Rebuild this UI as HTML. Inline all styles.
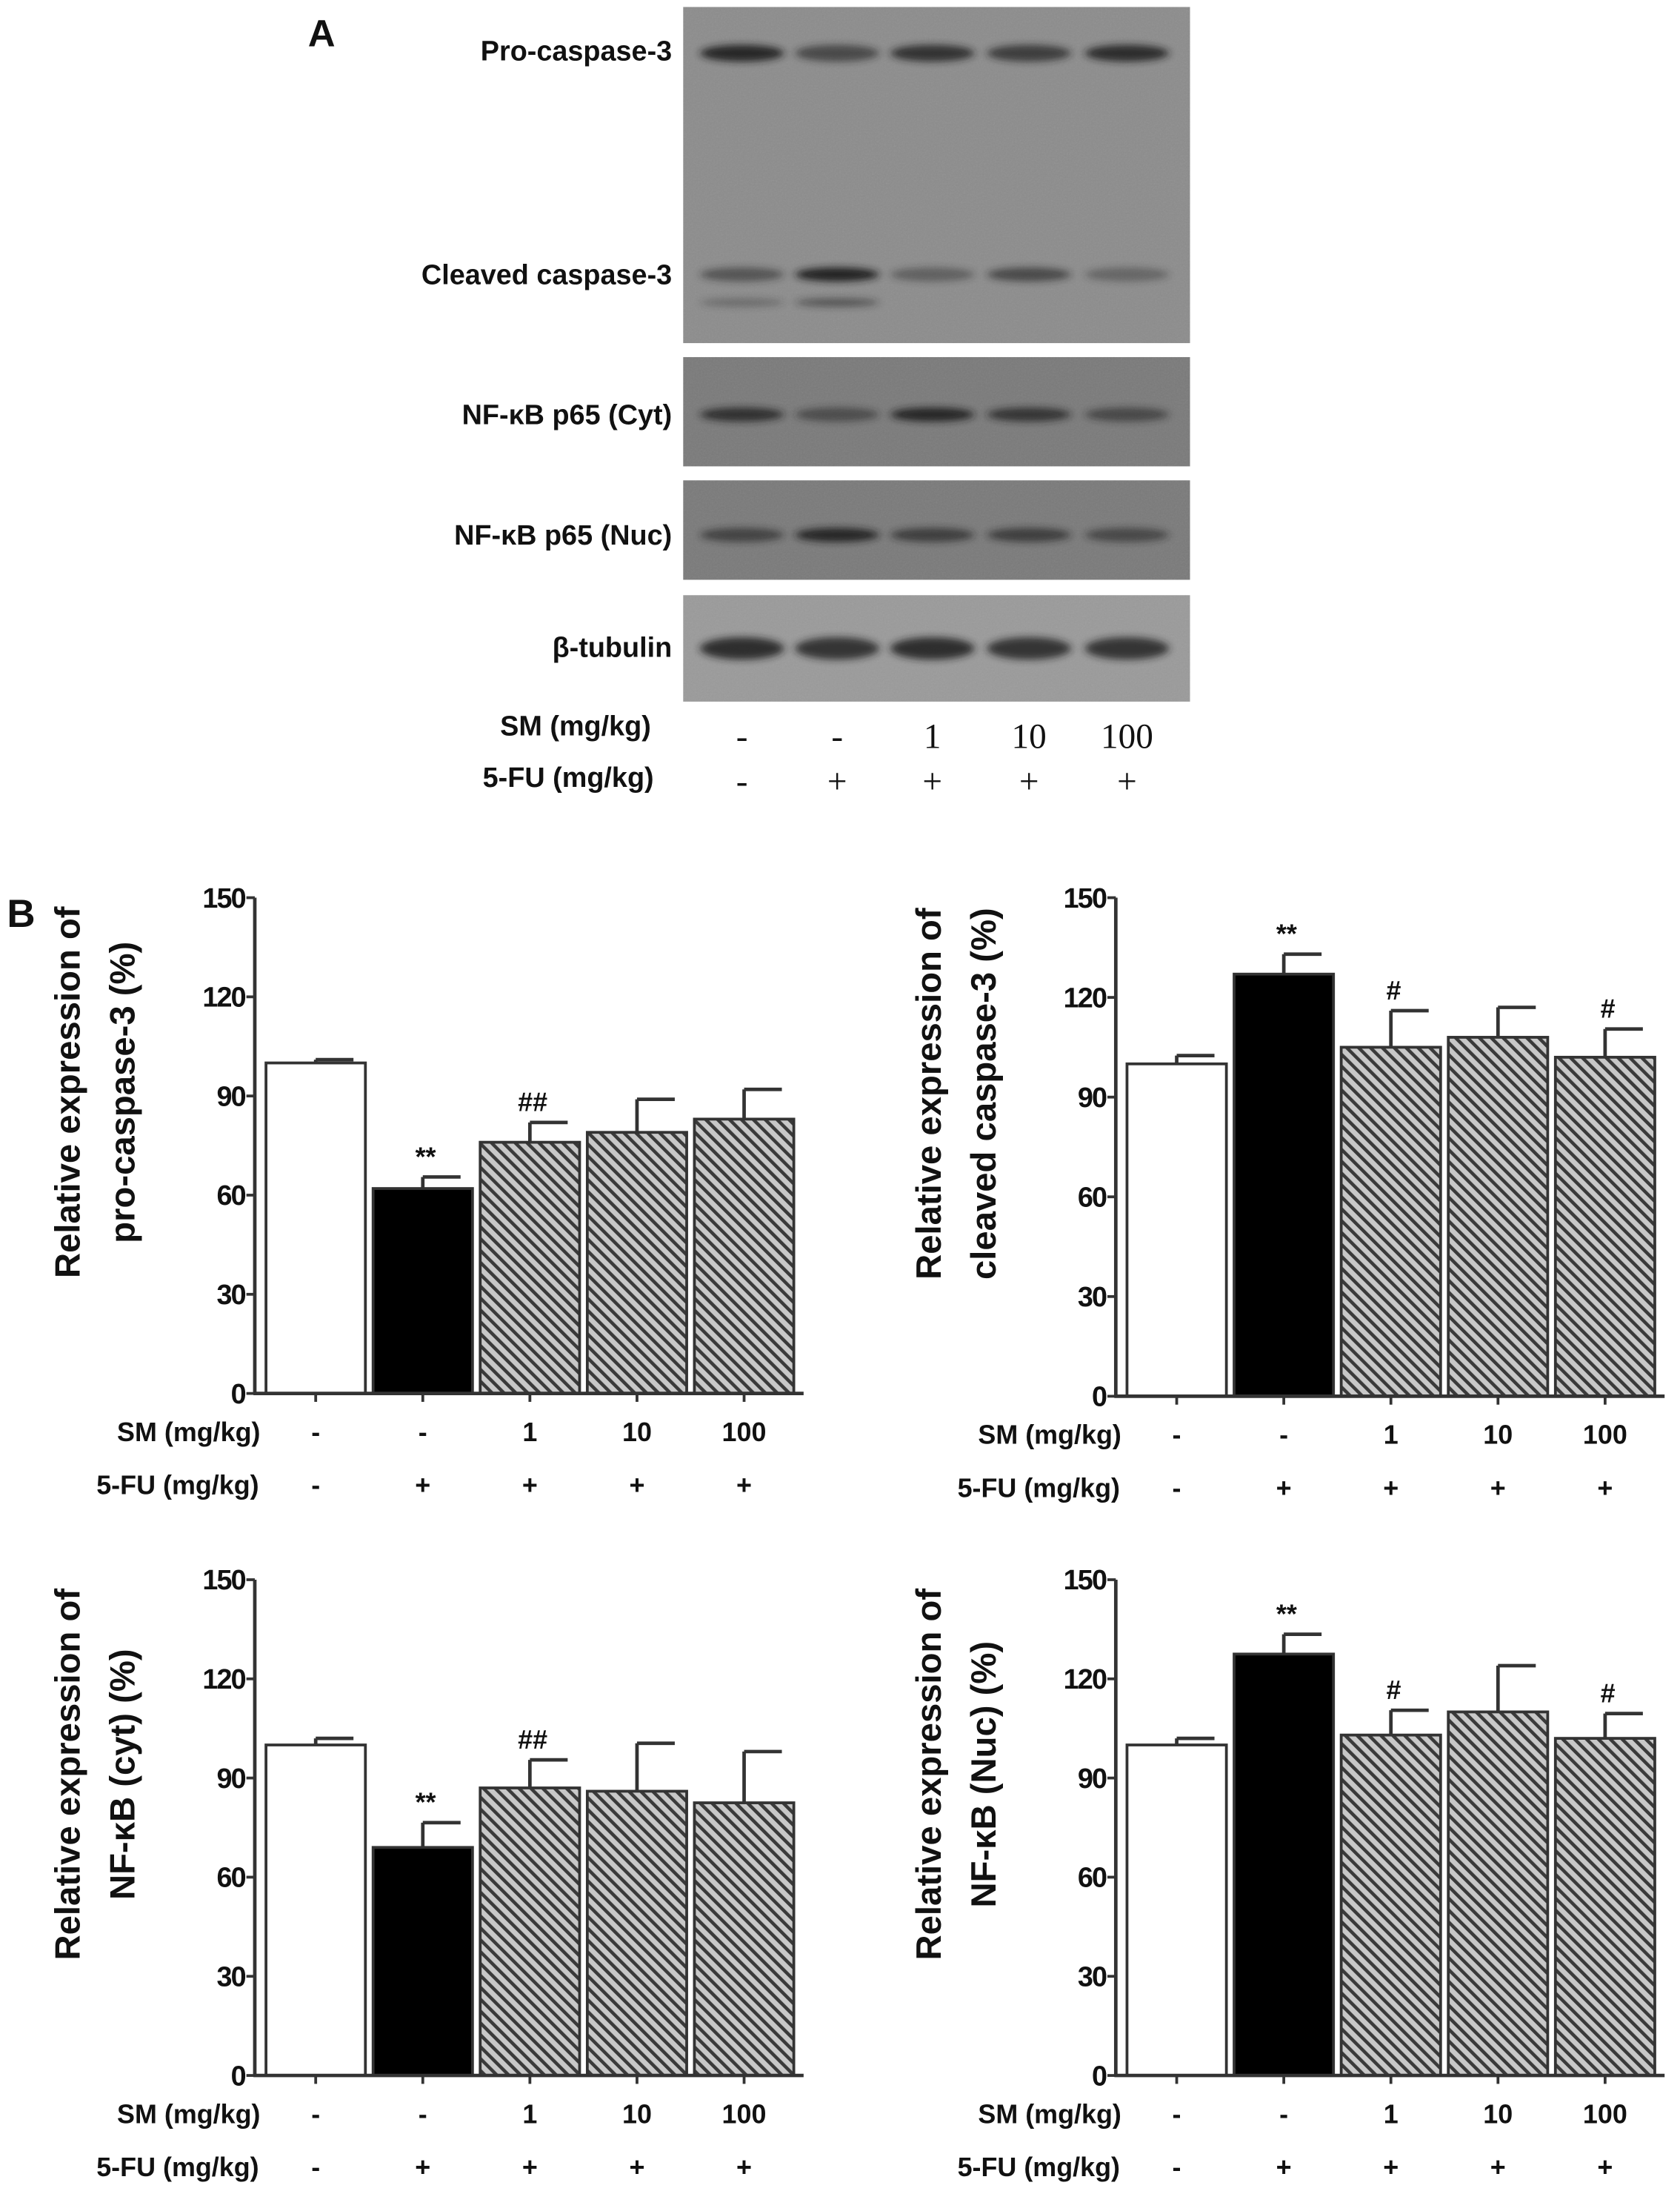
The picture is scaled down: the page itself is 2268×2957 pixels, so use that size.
<!DOCTYPE html>
<html><head><meta charset="utf-8"><style>
html,body{margin:0;padding:0;background:#fff}
svg{display:block}
text{font-family:"Liberation Sans",Arial,sans-serif;font-weight:bold;fill:#111}
text.serif{font-family:"Liberation Serif",serif;font-weight:normal}
</style></head><body>
<svg id="fig" xmlns="http://www.w3.org/2000/svg" width="2268" height="2957" viewBox="0 0 1200 1564.5" preserveAspectRatio="none">
<defs>
<pattern id="hatch" patternUnits="userSpaceOnUse" width="6" height="6" patternTransform="rotate(-45)">
<rect width="6" height="6" fill="#c8c8c8"/><rect width="2.4" height="6" fill="#3a3a3a"/>
</pattern>
<filter id="blur" x="-50%" y="-100%" width="200%" height="300%"><feGaussianBlur stdDeviation="3 2.5"/></filter>
<filter id="noise" x="0" y="0" width="1" height="1"><feTurbulence type="fractalNoise" baseFrequency="0.9" numOctaves="2" result="n"/><feColorMatrix type="saturate" values="0"/><feComponentTransfer><feFuncA type="linear" slope="0.12"/></feComponentTransfer></filter>
</defs>
<g id="panelA"></g>
<g id="panelB"></g>
</svg>
<script>
// ---- Data ----
const smLabels = ["-", "-", "1", "10", "100"];
const fuLabels = ["-", "+", "+", "+", "+"];
const yTicks = [0, 30, 60, 90, 120, 150];
const proCaspase = [100, 62, 76, 79, 83];
const proCaspaseErr = [1, 3.5, 6, 10, 9];
const proCaspaseSig = ["", "**", "##", "", ""];
const cleavedCaspase = [100, 127, 105, 108, 102];
const cleavedCaspaseErr = [2.5, 6, 11, 9, 8.5];
const cleavedCaspaseSig = ["", "**", "#", "", "#"];
const nfkbCyt = [100, 69, 87, 86, 82.5];
const nfkbCytErr = [2, 7.5, 8.5, 14.5, 15.5];
const nfkbCytSig = ["", "**", "##", "", ""];
const nfkbNuc = [100, 127.5, 103, 110, 102];
const nfkbNucErr = [2, 6, 7.5, 14, 7.5];
const nfkbNucSig = ["", "**", "#", "", "#"];
// blot band intensities (0-1) per lane
const bandPro = [0.9, 0.6, 0.8, 0.7, 0.85];
const bandCleaved = [0.5, 0.95, 0.4, 0.6, 0.35];
const bandCleavedLow = [0.3, 0.5, 0, 0, 0];
const bandCyt = [0.8, 0.5, 0.9, 0.75, 0.55];
const bandNuc = [0.6, 0.9, 0.65, 0.65, 0.55];
const bandTub = [0.85, 0.8, 0.85, 0.8, 0.8];

const NS = "http://www.w3.org/2000/svg";
function mk(parent, tag, attrs, txt) {
  const e = document.createElementNS(NS, tag);
  for (const k in attrs) e.setAttribute(k, attrs[k]);
  if (txt !== undefined) e.textContent = txt;
  parent.appendChild(e);
  return e;
}

// ---- Panel A ----
const A = document.getElementById('panelA');
let t = mk(A, 'text', {x: 220, y: 33, 'font-size': 27}, 'A');


const laneX = [530, 598, 666, 735, 805];
const blots = [
  {y: 5, h: 240, fill: '#8c8c8c', label: 'Pro-caspase-3', ly: 43, name: 'blot-caspase-3'},
  {y: 255, h: 78, fill: '#7a7a7a', label: 'NF-\u03baB p65 (Cyt)', ly: 303, name: 'blot-nfkb-cyt'},
  {y: 343, h: 71, fill: '#7a7a7a', label: 'NF-\u03baB p65 (Nuc)', ly: 389, name: 'blot-nfkb-nuc'},
  {y: 425, h: 76, fill: '#9a9a9a', label: '\u03b2-tubulin', ly: 469, name: 'blot-beta-tubulin'}
];
blots.forEach(b => {
  const r = mk(A, 'rect', {x: 488, y: b.y, width: 362, height: b.h, fill: b.fill});
  
  
  mk(A, 'rect', {x: 488, y: b.y, width: 362, height: b.h, filter: 'url(#noise)'});
  const l = mk(A, 'text', {x: 480, y: b.ly, 'font-size': 20, 'text-anchor': 'end'}, b.label);
  
  
});
let cl = mk(A, 'text', {x: 480, y: 203, 'font-size': 20, 'text-anchor': 'end'}, 'Cleaved caspase-3');


function bands(arr, cy, ry) {
  arr.forEach((v, i) => {
    const e = mk(A, 'ellipse', {cx: laneX[i], cy: cy, rx: 30, ry: ry, fill: '#1a1a1a', opacity: v, filter: 'url(#blur)'});
    
    
  });
}
bands(bandPro, 38, 6);
bands(bandCleaved, 196, 5);
bands(bandCleavedLow, 216, 3);
bands(bandCyt, 296, 5);
bands(bandNuc, 382, 5);
bands(bandTub, 463, 8);
mk(A, 'text', {x: 465, y: 525, 'font-size': 20, 'text-anchor': 'end'}, 'SM (mg/kg)');
mk(A, 'text', {x: 467, y: 562, 'font-size': 20, 'text-anchor': 'end'}, '5-FU (mg/kg)');
smLabels.forEach((s, i) => {
  const e = mk(A, 'text', {x: laneX[i], y: 534, 'font-size': 25, 'text-anchor': 'middle', 'class': 'serif'}, s);
  
  
});
fuLabels.forEach((s, i) => {
  const e = mk(A, 'text', {x: laneX[i], y: 566, 'font-size': 25, 'text-anchor': 'middle', 'class': 'serif'}, s);
  
  
});

// ---- Panel B ----
const B = document.getElementById('panelB');
let bl = mk(B, 'text', {x: 5, y: 662, 'font-size': 28}, 'B');



function chart(cfg, vals, errs, sigs) {
  const g = mk(B, 'g', {});
  
  
  const ax = cfg.x0, y0 = cfg.y0, ytop = cfg.ytop;
  const yS = v => y0 - (v / 150) * (y0 - ytop);
  const barW = 71, gap = 5.5, start = ax + 8;
  const xC = i => start + i * (barW + gap) + barW / 2;
  vals.forEach((v, i) => {
    const fill = i === 0 ? '#fff' : i === 1 ? '#000' : 'url(#hatch)';
    const r = mk(g, 'rect', {x: xC(i) - barW / 2, y: yS(v), width: barW, height: y0 - yS(v), fill: fill, stroke: '#333', 'stroke-width': 2});
    
    
    const top = yS(v + errs[i]);
    const eb = mk(g, 'path', {d: `M${xC(i)} ${yS(v)} V${top} M${xC(i)} ${top} H${xC(i) + barW * 0.38}`, stroke: '#333', 'stroke-width': 2.5, fill: 'none'});
    
    
    if (sigs[i]) {
      const s = mk(g, 'text', {x: xC(i) + 2, y: top - 8, 'font-size': 19, 'text-anchor': 'middle', fill: '#333'}, sigs[i]);
      
      
    }
  });
  const ya = mk(g, 'line', {x1: ax, y1: ytop, x2: ax, y2: y0 + 1, stroke: '#333', 'stroke-width': 2.5});
  
  
  const xa = mk(g, 'line', {x1: ax - 1, y1: y0, x2: ax + 392, y2: y0, stroke: '#333', 'stroke-width': 2.5});
  
  
  yTicks.forEach(v => {
    mk(g, 'line', {x1: ax - 6, y1: yS(v), x2: ax, y2: yS(v), stroke: '#333', 'stroke-width': 2});
    const tl = mk(g, 'text', {x: ax - 7, y: yS(v) + 7, 'font-size': 20, 'text-anchor': 'end', 'letter-spacing': '-1'}, v);
    
    
  });
  vals.forEach((v, i) => {
    mk(g, 'line', {x1: xC(i), y1: y0, x2: xC(i), y2: y0 + 6, stroke: '#333', 'stroke-width': 2});
    const a = mk(g, 'text', {x: xC(i), y: y0 + 34, 'font-size': 19, 'text-anchor': 'middle'}, smLabels[i]);
    
    
    const b = mk(g, 'text', {x: xC(i), y: y0 + 72, 'font-size': 19, 'text-anchor': 'middle'}, fuLabels[i]);
    
    
  });
  const sm = mk(g, 'text', {x: ax + 4, y: y0 + 34, 'font-size': 19, 'text-anchor': 'end'}, 'SM (mg/kg)');
  
  
  const fu = mk(g, 'text', {x: ax + 3, y: y0 + 72, 'font-size': 19, 'text-anchor': 'end'}, '5-FU (mg/kg)');
  
  
  const cy = (y0 + ytop) / 2 - 38;
  const l1 = mk(g, 'text', {x: 0, y: 0, 'font-size': 25, 'text-anchor': 'middle', transform: `translate(${ax - 125},${cy}) rotate(-90)`}, 'Relative expression of');
  
  
  const l2 = mk(g, 'text', {x: 0, y: 0, 'font-size': 25, 'text-anchor': 'middle', transform: `translate(${ax - 86},${cy}) rotate(-90)`}, cfg.label2);
  
  
}
chart({name: 'chart-pro-caspase-3', x0: 182, y0: 995, ytop: 641, label2: 'pro-caspase-3 (%)'}, proCaspase, proCaspaseErr, proCaspaseSig);
chart({name: 'chart-cleaved-caspase-3', x0: 797, y0: 997, ytop: 641, label2: 'cleaved caspase-3 (%)'}, cleavedCaspase, cleavedCaspaseErr, cleavedCaspaseSig);
chart({name: 'chart-nfkb-cyt', x0: 182, y0: 1482, ytop: 1128, label2: 'NF-\u03baB (cyt) (%)'}, nfkbCyt, nfkbCytErr, nfkbCytSig);
chart({name: 'chart-nfkb-nuc', x0: 797, y0: 1482, ytop: 1128, label2: 'NF-\u03baB (Nuc) (%)'}, nfkbNuc, nfkbNucErr, nfkbNucSig);
</script>
</body></html>
